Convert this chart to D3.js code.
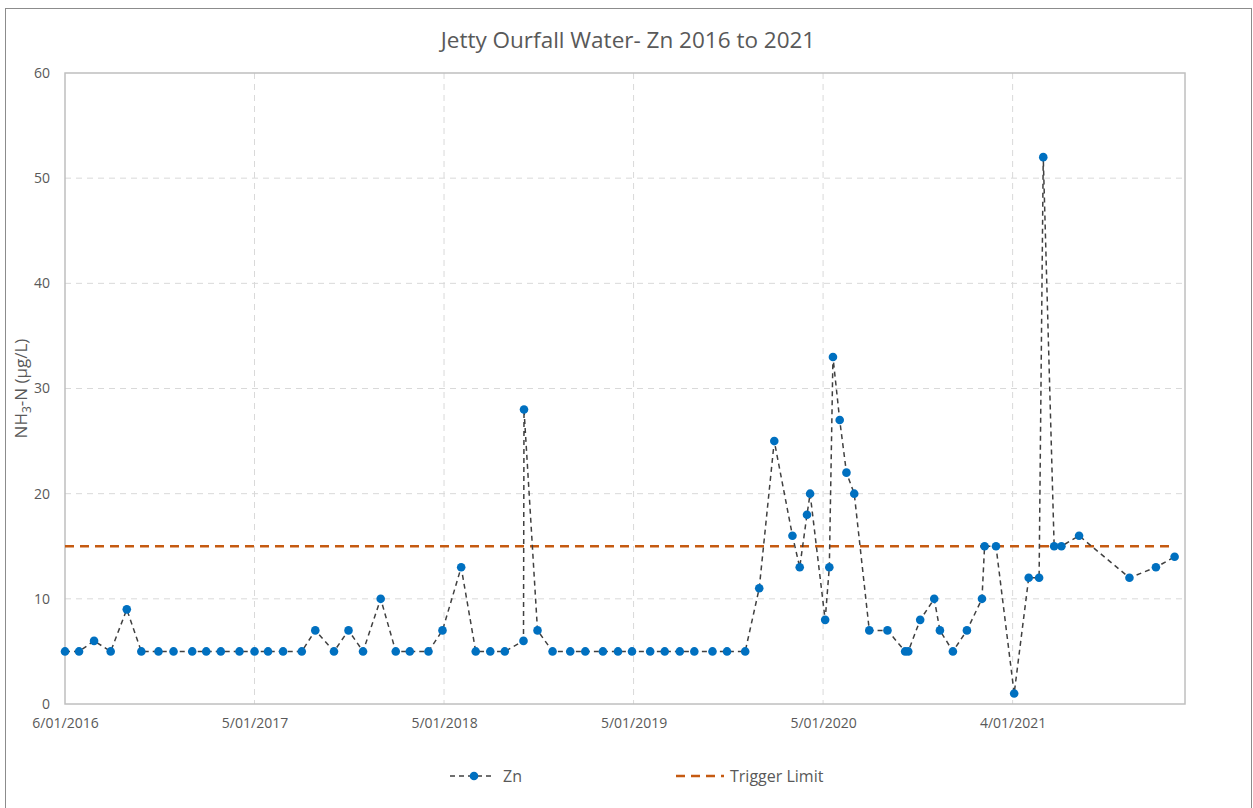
<!DOCTYPE html>
<meta charset="utf-8" />
<style>
  body { margin: 0; background: #fff; }
  text { font-family: "Open Sans", "Noto Sans", sans-serif; fill: #595959; }
</style>
<body>
<script src="https://d3js.org/d3.v7.min.js"></script>
<script>
  // sample dates (d/mm/yyyy style source, stored ISO) and Zn values
  var sampleDates = [
    "2016-01-06","2016-02-02","2016-03-02","2016-04-03","2016-05-04","2016-06-01",
    "2016-07-04","2016-08-02","2016-09-07","2016-10-04","2016-11-01","2016-12-07",
    "2017-01-05","2017-01-31","2017-03-01","2017-04-06","2017-05-02","2017-06-07",
    "2017-07-05","2017-08-02","2017-09-05","2017-10-04","2017-10-31","2017-12-06",
    "2018-01-02","2018-02-07","2018-03-07","2018-04-04","2018-05-02","2018-06-07",
    "2018-06-08","2018-07-04","2018-08-02","2018-09-05","2018-10-04","2018-11-07",
    "2018-12-06","2019-01-02","2019-02-06","2019-03-06","2019-04-04","2019-05-02",
    "2019-06-06","2019-07-04","2019-08-08","2019-09-04","2019-10-03","2019-11-07",
    "2019-11-21","2019-12-05","2019-12-11","2020-01-09","2020-01-17","2020-01-24",
    "2020-02-06","2020-02-19","2020-03-05","2020-04-03","2020-05-08","2020-06-11",
    "2020-06-17","2020-07-10","2020-08-06","2020-08-17","2020-09-11","2020-10-08",
    "2020-11-06","2020-11-11","2020-12-03","2021-01-07","2021-02-04","2021-02-24",
    "2021-03-04","2021-03-25","2021-04-08","2021-05-12","2021-08-17","2021-10-07",
    "2021-11-12"
  ];
  var znValues = [
    5, 5, 6, 5, 9, 5,
    5, 5, 5, 5, 5, 5,
    5, 5, 5, 5, 7, 5,
    7, 5, 10, 5, 5, 5,
    7, 13, 5, 5, 5, 6,
    28, 7, 5, 5, 5, 5,
    5, 5, 5, 5, 5, 5,
    5, 5, 5, 11, 25, 16,
    13, 18, 20, 8, 13, 33,
    27, 22, 20, 7, 7, 5,
    5, 8, 10, 7, 5, 7,
    10, 15, 15, 1, 12, 12,
    52, 15, 15, 16, 12, 13,
    14
  ];
  var triggerLimit = 15;
  var xDomain = ["2016-01-06", "2021-12-02"];
  var xTickDates = ["2016-01-06","2017-01-05","2018-01-05","2019-01-05","2020-01-05","2021-01-04"];
  var yTicks = [0, 10, 20, 30, 40, 50, 60];

  var W = 1253, H = 808;
  var margin = { top: 73, right: 68, bottom: 104, left: 65 };
  var width = W - margin.left - margin.right,
      height = H - margin.top - margin.bottom;

  var parse = d3.timeParse("%Y-%m-%d");
  var fmt = d3.timeFormat("%-d/%m/%Y");
  var data = sampleDates.map(function (d, i) {
    return { date: parse(d), value: znValues[i] };
  });

  var x = d3.scaleTime().domain(xDomain.map(parse)).range([0, width]);
  var y = d3.scaleLinear().domain([0, 60]).range([height, 0]);

  var svg = d3.select("body").append("svg")
    .attr("width", W).attr("height", H);

  // outer chart border
  svg.append("rect")
    .attr("x", 5.5).attr("y", 8.5)
    .attr("width", 1246).attr("height", 810)
    .style("fill", "none").style("stroke", "#8c8c8c").style("stroke-width", 1);

  var g = svg.append("g")
    .attr("transform", "translate(" + margin.left + "," + margin.top + ")");

  // horizontal gridlines
  g.selectAll(".hgrid").data(yTicks.slice(1, -1)).enter().append("line")
    .attr("x1", 0).attr("x2", width)
    .attr("y1", function (d) { return y(d); })
    .attr("y2", function (d) { return y(d); })
    .style("stroke", "#d9d9d9").style("stroke-dasharray", "6,5");

  // vertical gridlines
  g.selectAll(".vgrid").data(xTickDates.slice(1)).enter().append("line")
    .attr("x1", function (d) { return x(parse(d)); })
    .attr("x2", function (d) { return x(parse(d)); })
    .attr("y1", 0).attr("y2", height)
    .style("stroke", "#d9d9d9").style("stroke-dasharray", "6,5");

  // plot area frame
  g.append("rect")
    .attr("width", width).attr("height", height)
    .style("fill", "none").style("stroke", "#bfbfbf").style("stroke-width", 1.5);

  // y axis labels
  var yAxis = d3.axisLeft(y).tickValues(yTicks).tickSize(0).tickPadding(15);
  g.append("g").call(yAxis)
    .call(function (s) { s.select(".domain").remove(); })
    .selectAll("text").style("font-size", "14px").style("fill", "#595959");

  // x axis labels
  var xAxis = d3.axisBottom(x).tickValues(xTickDates.map(parse))
    .tickFormat(fmt).tickSize(0).tickPadding(14);
  g.append("g").attr("transform", "translate(0," + height + ")").call(xAxis)
    .call(function (s) { s.select(".domain").remove(); })
    .selectAll("text").style("font-size", "14px").style("fill", "#595959");

  // trigger limit line
  g.append("line")
    .attr("x1", x(data[0].date)).attr("x2", x(data[data.length - 1].date))
    .attr("y1", y(triggerLimit)).attr("y2", y(triggerLimit))
    .style("stroke", "#c55a11").style("stroke-width", 2.5)
    .style("stroke-dasharray", "9,6");

  // Zn series
  var line = d3.line()
    .x(function (d) { return x(d.date); })
    .y(function (d) { return y(d.value); });
  g.append("path").datum(data).attr("d", line)
    .style("fill", "none").style("stroke", "#404040")
    .style("stroke-width", 1.5).style("stroke-dasharray", "5,4");

  g.selectAll(".dot").data(data).enter().append("circle")
    .attr("cx", function (d) { return x(d.date); })
    .attr("cy", function (d) { return y(d.value); })
    .attr("r", 4.3)
    .style("fill", "#0070c0");

  // title
  svg.append("text")
    .attr("x", 628).attr("y", 48)
    .attr("text-anchor", "middle")
    .style("font-size", "22.5px")
    .text("Jetty Ourfall Water- Zn 2016 to 2021");

  // y axis title
  var yt = svg.append("text")
    .attr("transform", "translate(27," + (margin.top + height / 2) + ") rotate(-90)")
    .attr("text-anchor", "middle")
    .style("font-size", "17px");
  yt.append("tspan").text("NH");
  yt.append("tspan").attr("dy", 4).style("font-size", "12px").text("3");
  yt.append("tspan").attr("dy", -4).text("-N (µg/L)");

  // legend
  var leg = svg.append("g").attr("transform", "translate(0,776)");
  leg.append("line").attr("x1", 450).attr("x2", 494)
    .style("stroke", "#404040").style("stroke-width", 1.5)
    .style("stroke-dasharray", "5,4");
  leg.append("circle").attr("cx", 474).attr("cy", 0).attr("r", 4.3)
    .style("fill", "#0070c0");
  leg.append("text").attr("x", 503).attr("y", 5.5).style("font-size", "16px").text("Zn");
  leg.append("line").attr("x1", 676).attr("x2", 724)
    .style("stroke", "#c55a11").style("stroke-width", 2.5)
    .style("stroke-dasharray", "9,6");
  leg.append("text").attr("x", 730).attr("y", 5.5).style("font-size", "16px").text("Trigger Limit");
</script>
</body>
